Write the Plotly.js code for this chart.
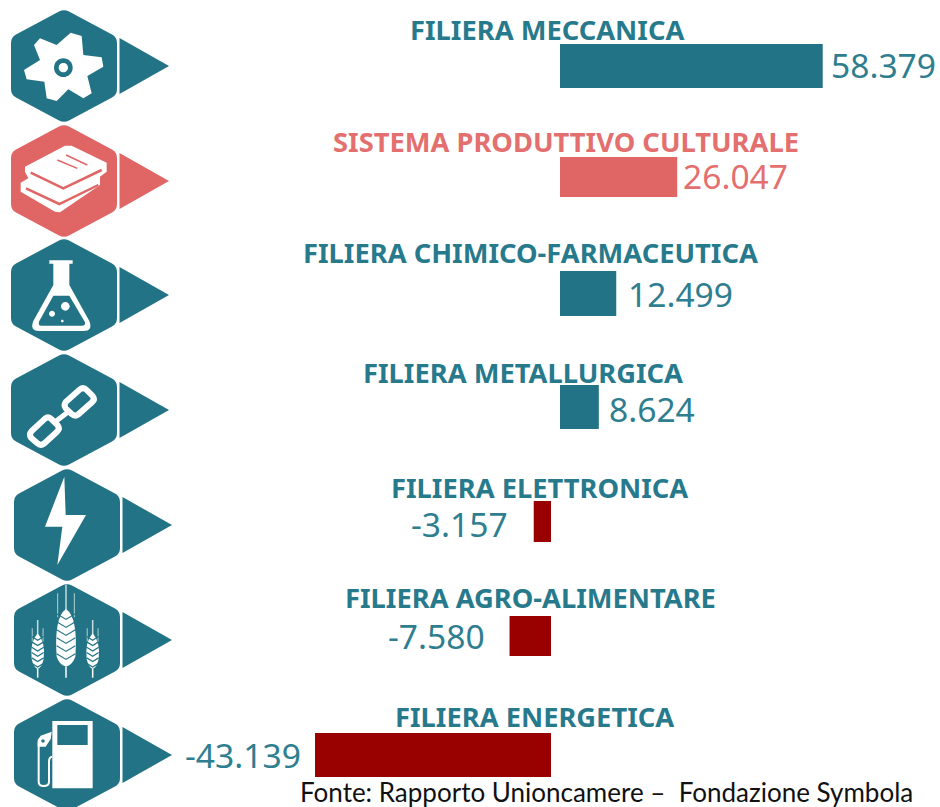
<!DOCTYPE html>
<html>
<head>
<meta charset="utf-8">
<script src="https://cdn.plot.ly/plotly-3.0.1.min.js"></script>
<style>html,body{margin:0;padding:0;background:#fff;overflow:hidden}#chart{width:940px;height:807px}</style>
</head>
<body>
<div id="chart"></div>
<script>
// ---- data ----
var categories = ["FILIERA MECCANICA","SISTEMA PRODUTTIVO CULTURALE","FILIERA CHIMICO-FARMACEUTICA","FILIERA METALLURGICA","FILIERA ELETTRONICA","FILIERA AGRO-ALIMENTARE","FILIERA ENERGETICA"];
var values = [58379,26047,12499,8624,-3157,-7580,-43139];
var valueLabels = ["58.379","26.047","12.499","8.624","-3.157","-7.580","-43.139"];
var sourceText = "Fonte: Rapporto Unioncamere –  Fondazione Symbola";

// ---- style / layout constants (reference pixels) ----
var W = 940, H = 807;
var TEAL = "#227385", CORAL = "#E06666", RED = "#990000", TXT = "#277A8C", CTXT = "#E46F6F";
var rowStep = 114.83, rowFirst = 66;
var barTop = [44,157,271,385,501,616,733], barH = [44,40,45,44,41,40,44];
var titleX = [546.5,566,530,523,539,530,534], titleY = [29.5,141.5,252.5,372.5,487.5,597.5,716.5];
var labelX = [831,683,628,609,508,485,301], labelY = [65,176,294,409,524,636,755];
var hexC = [[64,66],[64,181],[64,295],[64,410],[67,525],[67,640],[67,755]];
var posZero = 560, negZero = 551, pxPosPerK = 4.5, pxNegPerK = 5.47;

var offs = barTop.map(function(t,i){return (t-(rowFirst+i*rowStep))/rowStep;});
var wids = barH.map(function(h){return h/rowStep;});
var posIdx = [], negIdx = [];
values.forEach(function(v,i){(v>=0?posIdx:negIdx).push(i);});
function pick(a,idx){return idx.map(function(i){return a[i];});}

var traces = [
 {type:"bar",orientation:"h",xaxis:"x",yaxis:"y",y:pick(categories,posIdx),x:pick(values,posIdx),
  offset:pick(offs,posIdx),width:pick(wids,posIdx),
  marker:{color:posIdx.map(function(i){return i===1?CORAL:TEAL;}),line:{width:0}},hoverinfo:"skip"},
 {type:"bar",orientation:"h",xaxis:"x2",yaxis:"y",y:pick(categories,negIdx),x:pick(values,negIdx),
  offset:pick(offs,negIdx),width:pick(wids,negIdx),
  marker:{color:RED,line:{width:0}},hoverinfo:"skip"}
];

// ---- icon helpers ----
function z(str,oy){return str.replace(/(-?\d+\.?\d*),(-?\d+\.?\d*)/g,function(m,a,b){
  return (+a/3).toFixed(2)+","+(oy+b/3).toFixed(2);});}
function rel(str,c){return str.replace(/(-?\d+\.?\d*),(-?\d+\.?\d*)/g,function(m,a,b){
  return (c[0]+ +a).toFixed(2)+","+(c[1]+ +b).toFixed(2);});}
function circ(x,y,r){var k=0.5523*r;
  return "M"+(x-r)+","+y+" C"+(x-r)+","+(y-k)+" "+(x-k)+","+(y-r)+" "+x+","+(y-r)+
   " C"+(x+k)+","+(y-r)+" "+(x+r)+","+(y-k)+" "+(x+r)+","+y+
   " C"+(x+r)+","+(y+k)+" "+(x+k)+","+(y+r)+" "+x+","+(y+r)+
   " C"+(x-k)+","+(y+r)+" "+(x-r)+","+(y+k)+" "+(x-r)+","+y+" Z";}
var shapes = [];
function fillP(path,color){shapes.push({type:"path",xref:"x3",yref:"y3",path:path,fillcolor:color,line:{width:0},layer:"above"});}
function strokeP(path,color,w){shapes.push({type:"path",xref:"x3",yref:"y3",path:path,fillcolor:"rgba(0,0,0,0)",line:{color:color,width:w},layer:"above"});}

var hexPath = "M-5,-54.4 Q0,-57 5,-54.4 L48,-31.6 Q53,-29 53,-23 L53,23 Q53,29 48,31.6 L5,54.4 Q0,57 -5,54.4 L-48,31.6 Q-53,29 -53,23 L-53,-23 Q-53,-29 -48,-31.6 Z";
var triPath = "M55.5,-28 L105,0 L55.5,28 Z";
hexC.forEach(function(c,i){
  var col = i===1?CORAL:TEAL;
  fillP(rel(hexPath,c),col);
  fillP(rel(triPath,c),col);
});

// gear
fillP(z("M120,115 L170,135 L212,98 L245,108 L250,165 L305,172 L310,200 L262,228 L275,280 L250,295 L205,268 L170,303 L140,295 L133,245 L80,238 L72,210 L120,180 L102,135 Z",0),"#fff");
fillP(z(circ(190,203,28),0),TEAL);
fillP(z(circ(190,203,14),0),"#fff");
// books
fillP(z("M75,500 L195,437 L215,437 L320,488 L320,515 L300,530 L300,555 L180,637 L165,635 L62,575 L62,548 L85,535 L75,515 Z",0),"#fff");
strokeP(z("M92,518 L190,565 L305,510",0),CORAL,2.5);
strokeP(z("M78,565 L178,612 L295,555",0),CORAL,2.5);
strokeP(z("M172,480 L232,505",0),CORAL,1.5);
strokeP(z("M198,465 L262,495",0),CORAL,1.5);
// flask
fillP(z("M148,76 L218,76 L218,86 L208,86 L208,150 L268,258 Q280,288 250,288 L118,288 Q88,288 100,258 L160,150 L160,86 L148,86 Z",235),"#fff");
fillP(z("M160,182 L208,182 L255,262 Q258,272 245,272 L125,272 Q112,272 118,258 Z",235),TEAL);
fillP(z(circ(196,214,13),235),"#fff");
fillP(z(circ(156,236,9),235),"#fff");
fillP(z(circ(187,258,4),235),"#fff");
// chain
strokeP(z("M198,500 L240,463 Q250,455 260,465 L278,483 Q286,493 276,502 L235,538 Q225,546 215,537 L197,520 Q190,510 198,500 Z",235),"#fff",6);
strokeP(z("M95,588 L135,551 Q145,543 155,553 L173,571 Q181,581 171,590 L132,626 Q122,634 112,625 L93,608 Q86,598 95,588 Z",235),"#fff",6);
strokeP(z("M166,560 L205,530",235),"#fff",5);
// bolt
fillP(z("M193,35 L135,185 L187,185 L172,300 L258,150 L197,150 Z",465),"#fff");
// wheat
function wheat(cx,top,grainTop,grainBot,bot,hw,step){
  strokeP(z("M"+cx+","+top+" L"+cx+","+(grainTop+20),465),"rgba(255,255,255,0.75)",1.5);
  strokeP(z("M"+(cx-hw*0.9)+","+(top+25)+" L"+(cx-hw*0.9)+","+(grainTop+25),465),"rgba(255,255,255,0.55)",1.2);
  strokeP(z("M"+(cx+hw*0.9)+","+(top+25)+" L"+(cx+hw*0.9)+","+(grainTop+25),465),"rgba(255,255,255,0.55)",1.2);
  strokeP(z("M"+cx+","+grainBot+" L"+cx+","+bot,465),"#fff",1.5);
  fillP(z("M"+cx+","+grainTop+" Q"+(cx+hw*1.3)+","+(grainTop+25)+" "+(cx+hw)+","+(grainBot-30)+" Q"+(cx+hw*0.7)+","+(grainBot-5)+" "+cx+","+grainBot+
      " Q"+(cx-hw*0.7)+","+(grainBot-5)+" "+(cx-hw)+","+(grainBot-30)+" Q"+(cx-hw*1.3)+","+(grainTop+25)+" "+cx+","+grainTop+" Z",465),"#fff");
  for(var y=grainTop+step;y<grainBot-step*0.3;y+=step){
    strokeP(z("M"+(cx-hw)+","+(y-step*0.4)+" L"+cx+","+(y+step*0.3)+" L"+(cx+hw)+","+(y-step*0.4),465),TEAL,1.2);
  }
}
wheat(198,360,432,605,638,28,24);
wheat(113,465,505,612,638,18,16);
wheat(278,465,505,612,638,18,16);
// fuel pump
fillP(z("M157,768 L278,768 L278,970 L157,970 Z",465),"#fff");
fillP(z("M172,780 L263,780 L263,840 L172,840 Z",465),TEAL);
strokeP(z("M157,875 Q147,875 147,890 L147,950 Q147,963 131,963 Q116,963 116,950 L116,830",465),"#fff",2);
fillP(z("M113,845 L113,825 L122,812 L155,800 L152,822 L137,845 Z",465),"#fff");
fillP(z(circ(129,828,5),465),TEAL);

// ---- text ----
var annotations = [];
function ann(text,x,y,anchor,size,color,bold,family){
  annotations.push({xref:"x3",yref:"y3",x:x,y:y,text:bold?"<b>"+text+"</b>":text,showarrow:false,xanchor:anchor,yanchor:"middle",
    font:{family:family,size:size,color:color},borderpad:0,borderwidth:0});
}
categories.forEach(function(t,i){
  ann(t,titleX[i],titleY[i],"center",27.3,i===1?CTXT:TXT,true,"'Noto Sans',sans-serif");
  ann(valueLabels[i],labelX[i],labelY[i],values[i]>=0?"left":"right",33.6,i===1?CTXT:"#2E7E90",false,"'Noto Sans',sans-serif");
});
ann(sourceText,606,792,"center",26,"#111",false,"Lato,sans-serif");

var layout = {
  width:W,height:H,margin:{l:0,r:0,t:0,b:0},paper_bgcolor:"#fff",plot_bgcolor:"rgba(0,0,0,0)",
  barmode:"overlay",showlegend:false,
  xaxis:{domain:[posZero/W,1],range:[0,(W-posZero)/pxPosPerK*1000],visible:false,fixedrange:true},
  xaxis2:{domain:[0,negZero/W],range:[-negZero/pxNegPerK*1000,0],visible:false,fixedrange:true,anchor:"y"},
  yaxis:{type:"category",categoryorder:"array",categoryarray:categories,
         range:[(H-rowFirst)/rowStep,-rowFirst/rowStep],visible:false,fixedrange:true},
  xaxis3:{domain:[0,1],range:[0,W],visible:false,fixedrange:true,anchor:"y3"},
  yaxis3:{domain:[0,1],range:[H,0],visible:false,fixedrange:true,anchor:"x3"},
  shapes:shapes,annotations:annotations
};
Plotly.newPlot("chart",traces,layout,{displayModeBar:false,staticPlot:true});
</script>
</body>
</html>
